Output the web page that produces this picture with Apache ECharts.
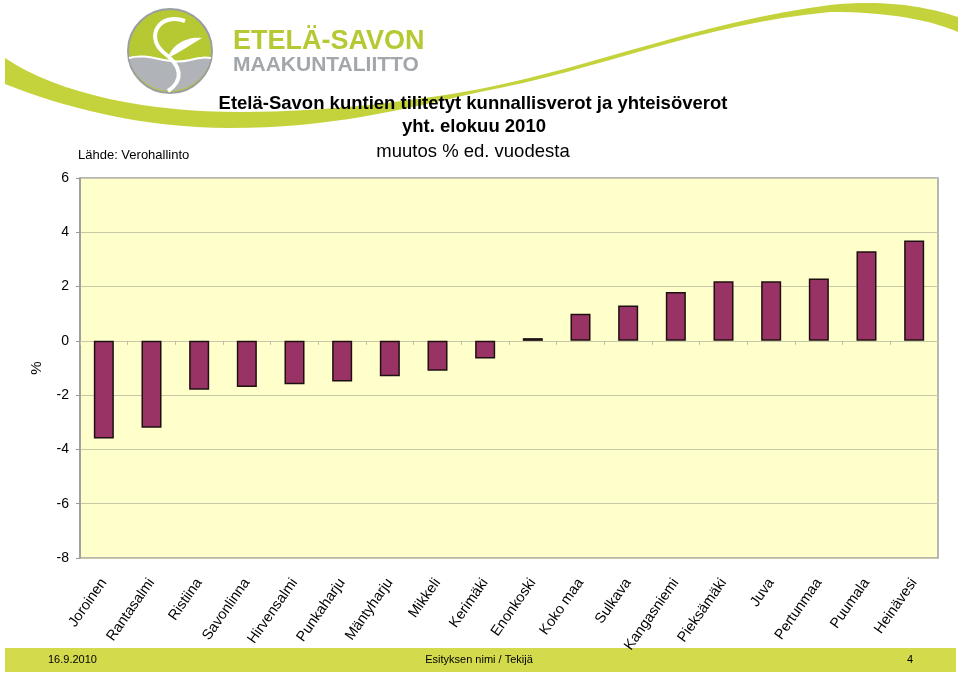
<!DOCTYPE html>
<html>
<head>
<meta charset="utf-8">
<script src="https://cdn.jsdelivr.net/npm/echarts@6/dist/echarts.min.js"></script>
<style>
html,body{margin:0;padding:0;background:#fff;}
#chart{width:960px;height:676px;}
</style>
</head>
<body>
<div id="chart"></div>
<script>
const categories = ['Joroinen','Rantasalmi','Ristiina','Savonlinna','Hirvensalmi','Punkaharju','Mäntyharju','Mikkeli','Kerimäki','Enonkoski','Koko maa','Sulkava','Kangasniemi','Pieksämäki','Juva','Pertunmaa','Puumala','Heinävesi'];
const values = [-3.6,-3.2,-1.8,-1.7,-1.6,-1.5,-1.3,-1.1,-0.65,0.1,1.0,1.3,1.8,2.2,2.2,2.3,3.3,3.7];
const titleLines = ['Etelä-Savon kuntien tilitetyt kunnallisverot ja yhteisöverot','yht. elokuu 2010','muutos % ed. vuodesta'];
const sourceText = 'Lähde: Verohallinto';
const footerTexts = ['16.9.2010','Esityksen nimi / Tekijä','4'];
const logoTexts = ['ETELÄ-SAVON','MAAKUNTALIITTO'];
const yMin = -8, yMax = 6, yStep = 2;

const FONT = '"Liberation Sans", Arial, sans-serif';
const chart = echarts.init(document.getElementById('chart'), null, {renderer:'canvas'});

function renderDecor(params, api) {
  return {
    type:'group',
    children:[
      {type:'path',shape:{pathData:'M 5 58 C 60 95 150 112 240 112 C 330 112 420 100 480 89 C 600 65 700 22 830 5 C 890 -1 930 8 958 17 L 958 32 C 930 20 890 12 830 12 C 700 24 600 70 480 92 C 400 110 330 128 230 128 C 140 128 60 106 5 84 Z'},style:{fill:'#c4d33c'}},
      {type:'circle',shape:{cx:170,cy:51,r:42},style:{fill:'#b6c832',stroke:'#9a9ea2',lineWidth:2}},
      {type:'path',shape:{pathData:'M 129 58 C 150 52 168 66 190 60 C 200 57 206 57 211 58 A 42 42 0 0 1 129 58 Z'},style:{fill:'#b0b4b8'}},
      {type:'path',shape:{pathData:'M 129 58 C 150 52 168 66 190 60 C 200 57 206 57 211 58'},style:{fill:null,stroke:'#ffffff',lineWidth:2}},
      {type:'path',shape:{pathData:'M 185 21 C 160 12 145 36 163 52 C 182 66 184 80 168 91'},style:{fill:null,stroke:'#ffffff',lineWidth:4}},
      {type:'path',shape:{pathData:'M 168 58 C 172 44 188 36 202 38 C 192 44 180 52 168 58 Z'},style:{fill:'#ffffff'}},
      {type:'text',style:{x:233,y:42,text:logoTexts[0],font:'bold 27px '+FONT,fill:'#b6c832',verticalAlign:'middle'}},
      {type:'text',style:{x:233,y:65,text:logoTexts[1],font:'bold 21px '+FONT,fill:'#a3a7ab',verticalAlign:'middle'}}
    ]
  };
}

const option = {
  backgroundColor:'#ffffff',
  animation:false,
  title:[
    {text:titleLines[0], left:473, top:94, padding:0, textAlign:'center', textStyle:{fontFamily:FONT,fontSize:18.5,fontWeight:'bold',color:'#000'}},
    {text:titleLines[1], left:474, top:117, padding:0, textAlign:'center', textStyle:{fontFamily:FONT,fontSize:18.5,fontWeight:'bold',color:'#000'}},
    {text:titleLines[2], left:473, top:142, padding:0, textAlign:'center', textStyle:{fontFamily:FONT,fontSize:18.5,fontWeight:'normal',color:'#000'}},
    {text:sourceText, left:78, top:149, padding:0, textStyle:{fontFamily:FONT,fontSize:13,fontWeight:'normal',color:'#000'}}
  ],
  grid:{left:80,right:22,top:178,bottom:118,show:true,backgroundColor:'#ffffcc',borderColor:'#a0a0a0',borderWidth:1.5,containLabel:false},
  xAxis:[
    {type:'category',data:categories,position:'bottom',
     axisLine:{show:true,onZero:true,lineStyle:{color:'#c8c8a8',width:1}},
     axisTick:{show:true,interval:0,length:4,lineStyle:{color:'#c0c0a0'}},
     axisLabel:{show:false,interval:0},splitLine:{show:false}},
    {type:'category',data:categories,position:'bottom',
     axisLine:{show:false,onZero:false},axisTick:{show:false},
     axisLabel:{show:true,rotate:55,margin:22,fontFamily:FONT,fontSize:14.5,color:'#000',interval:0},
     splitLine:{show:false}}
  ],
  yAxis:{type:'value',min:yMin,max:yMax,interval:yStep,
    name:'%',nameLocation:'middle',nameGap:36,nameRotate:90,
    nameTextStyle:{fontFamily:FONT,fontSize:15,color:'#000'},
    axisLine:{show:true,lineStyle:{color:'#999',width:1.5}},
    axisTick:{show:true,length:4,lineStyle:{color:'#999'}},
    axisLabel:{margin:11,fontFamily:FONT,fontSize:14,color:'#000'},
    splitLine:{show:true,lineStyle:{color:'#c8c8a8',width:1}}},
  series:[
    {type:'bar',data:values,xAxisIndex:0,barWidth:'42%',
     itemStyle:{color:'#993366',borderColor:'#1e1010',borderWidth:1.5},z:3},
    {type:'custom',coordinateSystem:'none',data:[0],renderItem:renderDecor,silent:true,z:1,clip:false}
  ],
  graphic:[
    {type:'rect',z:-5,shape:{x:5,y:648,width:951,height:24},style:{fill:'#d3da4c'}},
    {type:'text',z:-4,style:{x:48,y:660,text:footerTexts[0],font:'11px '+FONT,fill:'#000',verticalAlign:'middle'}},
    {type:'text',z:-4,style:{x:479,y:660,text:footerTexts[1],font:'11px '+FONT,fill:'#000',align:'center',verticalAlign:'middle'}},
    {type:'text',z:-4,style:{x:910,y:660,text:footerTexts[2],font:'11px '+FONT,fill:'#000',align:'center',verticalAlign:'middle'}}
  ]
};
chart.setOption(option);
</script>
</body>
</html>
